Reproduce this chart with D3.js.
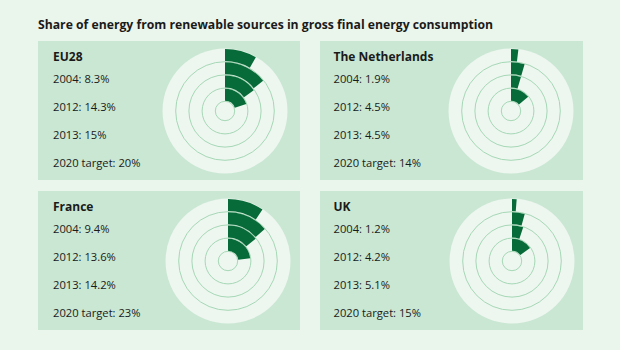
<!DOCTYPE html>
<html>
<head>
<meta charset="utf-8">
<script src="https://cdn.jsdelivr.net/npm/d3@7"></script>
<style>
  body { margin: 0; background: #eaf5ec; }
  svg { display: block; }
  text { font-family: "Open Sans", "Noto Sans", sans-serif; fill: #1a1a1a; }
</style>
</head>
<body>
<svg></svg>
<script>
// data
var regions = ["EU28", "The Netherlands", "France", "UK"];
var years = ["2004", "2012", "2013", "2020 target"];
var eu28 = [8.3, 14.3, 15, 20];
var netherlands = [1.9, 4.5, 4.5, 14];
var france = [9.4, 13.6, 14.2, 23];
var uk = [1.2, 4.2, 5.1, 15];
var valueLabels = [
    ["8.3%", "14.3%", "15%", "20%"],
    ["1.9%", "4.5%", "4.5%", "14%"],
    ["9.4%", "13.6%", "14.2%", "23%"],
    ["1.2%", "4.2%", "5.1%", "15%"]
];
var series = [eu28, netherlands, france, uk];

const svgWidth = 620,
    svgHeight = 350;

var svg = d3.select("svg")
    .attr("width", svgWidth)
    .attr("height", svgHeight);

svg.append("rect")
    .attr("width", svgWidth)
    .attr("height", svgHeight)
    .attr("fill", "#eaf5ec");

svg.append("text")
    .attr("x", 38)
    .attr("y", 29)
    .attr("font-size", 13)
    .attr("font-weight", "bold")
    .attr("textLength", 455)
    .attr("lengthAdjust", "spacingAndGlyphs")
    .text("Share of energy from renewable sources in gross final energy consumption");

// panel grid
var col = d3.scaleOrdinal().domain([0, 1]).range([38, 320]);
var row = d3.scaleOrdinal().domain([0, 1]).range([41, 191]);
var panelW = 262, panelH = 139;
var discX = [187, 191, 190, 192];

// 100% = full turn, start at 12 o'clock
var angle = d3.scaleLinear().domain([0, 100]).range([0, 2 * Math.PI]);
// 2004 outermost ring, 2020 target innermost
var radius = d3.scaleBand()
    .domain(years.slice().reverse())
    .range([9.7, 62.5]);

var lineY = d3.scalePoint().domain(years).range([42, 126]);

var arc = d3.arc()
    .innerRadius(d => radius(d.year) + 0.6)
    .outerRadius(d => radius(d.year) + radius.bandwidth() - 0.6)
    .startAngle(0)
    .endAngle(d => angle(d.value));

regions.forEach(function(name, i) {
    var g = svg.append("g")
        .attr("transform", "translate(" + col(i % 2) + "," + row(Math.floor(i / 2)) + ")");

    g.append("rect")
        .attr("width", panelW + (i % 2))
        .attr("height", panelH)
        .attr("fill", "#c9e7d2");

    var tx = i % 2 ? 13.5 : 15;
    g.append("text")
        .attr("x", tx)
        .attr("y", 20)
        .attr("font-size", 12)
        .attr("font-weight", "bold")
        .text(name);

    g.selectAll(".item")
        .data(years)
        .enter()
        .append("text")
        .attr("x", tx)
        .attr("y", d => lineY(d))
        .attr("font-size", 11.2)
        .text((d, j) => d + ": " + valueLabels[i][j]);

    var c = g.append("g")
        .attr("transform", "translate(" + discX[i] + ",70)");

    c.append("circle")
        .attr("r", radius.range()[1])
        .attr("fill", "#edf6ef");

    c.selectAll(".ring")
        .data(years.slice(0, 3).concat(["inner"]))
        .enter()
        .append("circle")
        .attr("r", d => d === "inner" ? radius.range()[0] : radius(d))
        .attr("fill", "none")
        .attr("stroke", "#a6d8b6")
        .attr("stroke-width", 1);

    c.selectAll(".bar")
        .data(years.map((y, j) => ({ year: y, value: series[i][j] })))
        .enter()
        .append("path")
        .attr("d", arc)
        .attr("fill", "#066b38");
});
</script>
</body>
</html>
